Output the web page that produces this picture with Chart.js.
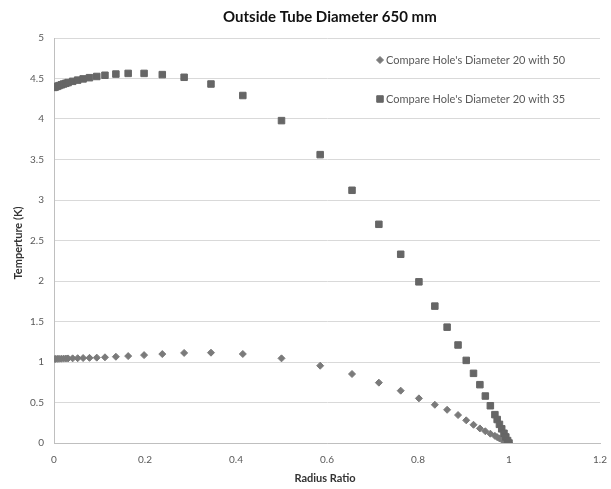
<!DOCTYPE html>
<html>
<head>
<meta charset="utf-8">
<script src="https://cdn.jsdelivr.net/npm/chart.js@4/dist/chart.umd.min.js"></script>
<style>
  html, body { margin: 0; padding: 0; background: #ffffff; }
  #wrap { width: 611px; height: 489px; position: relative; }
</style>
</head>
<body>
<div id="wrap"><canvas id="c" width="611" height="489"></canvas></div>
<script>
const chartTitle = "Outside Tube Diameter 650 mm";
const xTitle = "Radius Ratio";
const yTitle = "Temperture (K)";
const seriesNames = ["Compare Hole's Diameter 20 with 50", "Compare Hole's Diameter 20 with 35"];

const radiusRatio = [0, 0.003, 0.007, 0.011, 0.016, 0.021, 0.026, 0.031, 0.041, 0.052, 0.064, 0.078, 0.094,
  0.112, 0.136, 0.163, 0.198, 0.238, 0.286, 0.345, 0.415, 0.5, 0.585, 0.655, 0.714, 0.762, 0.802,
  0.837, 0.864, 0.888, 0.906, 0.922, 0.936, 0.948, 0.959, 0.969, 0.974, 0.979, 0.984, 0.989, 0.993, 0.997, 1.0];

const temp20with50 = [1.037, 1.038, 1.039, 1.04, 1.041, 1.042, 1.043, 1.044, 1.045, 1.047, 1.049, 1.051, 1.054,
  1.058, 1.065, 1.073, 1.085, 1.098, 1.112, 1.115, 1.099, 1.045, 0.954, 0.852, 0.745, 0.646, 0.551,
  0.472, 0.41, 0.345, 0.28, 0.225, 0.18, 0.145, 0.115, 0.088, 0.072, 0.057, 0.043, 0.029, 0.018, 0.008, 0.0];

const temp20with35 = [4.39, 4.395, 4.403, 4.412, 4.422, 4.432, 4.441, 4.45, 4.465, 4.48, 4.495, 4.51, 4.525,
  4.54, 4.555, 4.563, 4.563, 4.548, 4.515, 4.432, 4.29, 3.98, 3.56, 3.12, 2.70, 2.33, 1.99,
  1.69, 1.43, 1.21, 1.02, 0.86, 0.72, 0.58, 0.46, 0.35, 0.29, 0.23, 0.175, 0.12, 0.075, 0.03, 0.0];

const xTicks = [0, 0.2, 0.4, 0.6, 0.8, 1, 1.2];
const yTicks = [0, 0.5, 1, 1.5, 2, 2.5, 3, 3.5, 4, 4.5, 5];

const pts = (ys) => radiusRatio.map((x, i) => ({ x: x, y: ys[i] }));

const FONT = "Lato, 'Open Sans', 'Liberation Sans', sans-serif";
const colA = "#7a7a7a";
const colB = "#666666";

const overlay = {
  id: 'overlay',
  afterDraw(chart) {
    const ctx = chart.ctx;
    const ca = chart.chartArea;
    ctx.save();
    // chart title
    ctx.fillStyle = "#111111";
    ctx.font = "bold 15px " + FONT;
    ctx.textAlign = "left";
    ctx.textBaseline = "middle";
    ctx.fillText(chartTitle, 223, 17);
    // x title
    ctx.fillStyle = "#333333";
    ctx.font = "bold 11px " + FONT;
    ctx.textAlign = "center";
    ctx.fillText(xTitle, (ca.left + ca.right) / 2 - 2, 478);
    // y title
    ctx.save();
    ctx.translate(18, 243);
    ctx.rotate(-Math.PI / 2);
    ctx.fillText(yTitle, 0, 0);
    ctx.restore();
    // legend
    const items = [
      { label: chart.data.datasets[0].label, style: 'rectRot', r: 3.5, color: colA, y: 60 },
      { label: chart.data.datasets[1].label, style: 'rect', r: 4.6, color: colB, y: 99 }
    ];
    ctx.font = "11px " + FONT;
    ctx.textAlign = "left";
    for (const it of items) {
      ctx.fillStyle = it.color;
      ctx.strokeStyle = it.color;
      ctx.lineWidth = 1;
      Chart.helpers.drawPoint(ctx, { pointStyle: it.style, radius: it.r, borderWidth: 1 }, 380, it.y);
      ctx.fillStyle = "#595959";
      ctx.fillText(it.label, 386, it.y);
    }
    ctx.restore();
  }
};

new Chart(document.getElementById('c'), {
  type: 'scatter',
  data: {
    datasets: [
      {
        label: seriesNames[0],
        data: pts(temp20with50),
        pointStyle: 'rectRot',
        pointRadius: 3.5,
        pointBorderWidth: 1,
        backgroundColor: colA,
        borderColor: colA,
        order: 2
      },
      {
        label: seriesNames[1],
        data: pts(temp20with35),
        pointStyle: 'rect',
        pointRadius: 4.6,
        pointBorderWidth: 1,
        backgroundColor: colB,
        borderColor: colB,
        order: 1
      }
    ]
  },
  options: {
    responsive: false,
    animation: false,
    devicePixelRatio: 1,
    layout: { padding: { left: 0, top: 38, right: 11, bottom: 0 } },
    plugins: {
      legend: { display: false },
      title: { display: false },
      tooltip: { enabled: false }
    },
    scales: {
      x: {
        type: 'linear',
        min: 0, max: 1.2,
        afterFit(s) { s.height = 46; },
        afterBuildTicks(s) { s.ticks = xTicks.map(v => ({ value: v })); },
        grid: { display: true, color: "rgba(0,0,0,0)", drawOnChartArea: false, drawTicks: true, tickLength: 7 },
        border: { display: true, color: "#bfbfbf", width: 1 },
        ticks: {
          padding: 4,
          color: "#595959",
          font: { family: FONT, size: 10 },
          maxRotation: 0,
          callback: (v) => String(v)
        }
      },
      y: {
        type: 'linear',
        min: 0, max: 5,
        afterFit(s) { s.width = 54; },
        afterBuildTicks(s) { s.ticks = yTicks.map(v => ({ value: v })); },
        grid: { color: "#d9d9d9", lineWidth: 1, drawTicks: false },
        border: { display: true, color: "#bfbfbf", width: 1 },
        ticks: {
          padding: 10,
          color: "#595959",
          font: { family: FONT, size: 10 },
          callback: (v) => String(v)
        }
      }
    }
  },
  plugins: [overlay]
});
</script>
</body>
</html>
